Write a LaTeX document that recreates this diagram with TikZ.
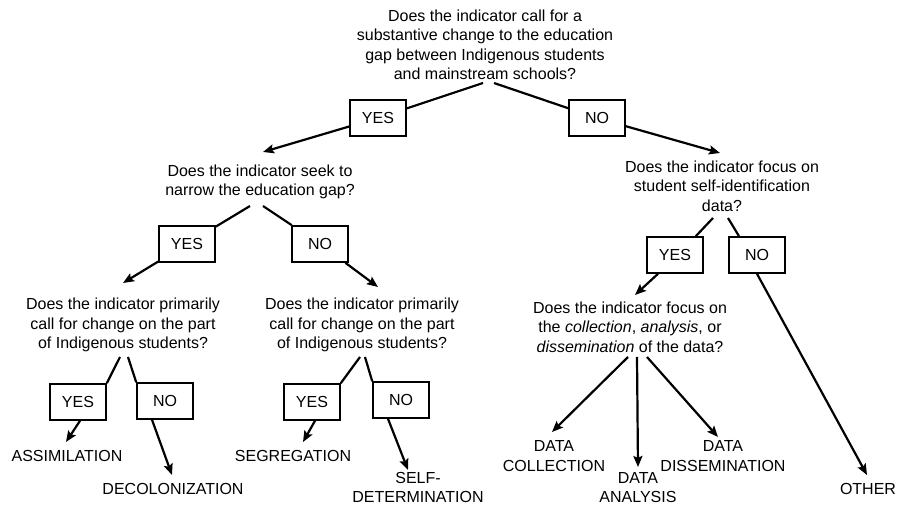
\documentclass[tikz,border=0pt]{standalone}
\usepackage{fontspec}
\setmainfont{Liberation Sans}
\usetikzlibrary{arrows.meta}
\begin{document}
\begin{tikzpicture}[x=1pt,y=-1pt,
  txt/.style={align=center,inner sep=0pt,font=\fontsize{16}{19.5}\selectfont},
  ansbox/.style={draw,line width=1.6pt,minimum width=56pt,minimum height=36pt,inner sep=0pt,font=\fontsize{16}{19.5}\selectfont},
  conn/.style={line width=2.2pt},
  arr/.style={line width=2.2pt,-{Stealth[length=11pt,width=9pt,inset=2pt]}}]
\useasboundingbox (0,0) rectangle (898,505);

% questions
\node[txt] (q0) at (485,45) {Does the indicator call for a\\substantive change to the education\\gap between Indigenous students\\and mainstream schools?};
\node[txt] (q1) at (260,182) {Does the indicator seek to\\narrow the education gap?};
\node[txt] (q2) at (722,186) {Does the indicator focus on\\student self-identification\\data?};
\node[txt] (q3) at (123,325) {Does the indicator primarily\\call for change on the part\\of Indigenous students?};
\node[txt] (q4) at (362,325) {Does the indicator primarily\\call for change on the part\\of Indigenous students?};
\node[txt] (q5) at (630,327) {Does the indicator focus on\\the \textit{collection}, \textit{analysis}, or\\\textit{dissemination} of the data?};

% answer boxes
\node[ansbox] (yes0) at (378,118) {YES};
\node[ansbox] (no0) at (597,118) {NO};
\node[ansbox] (yes1) at (187,244) {YES};
\node[ansbox] (no1) at (320,244) {NO};
\node[ansbox] (yes2) at (675,255) {YES};
\node[ansbox] (no2) at (757,255) {NO};
\node[ansbox] (yes3) at (78,402) {YES};
\node[ansbox] (no3) at (165,401) {NO};
\node[ansbox] (yes4) at (312,402) {YES};
\node[ansbox] (no4) at (401,400) {NO};

% outcomes
\node[txt] (assim) at (67,456) {ASSIMILATION};
\node[txt] (decol) at (173,489) {DECOLONIZATION};
\node[txt] (segr) at (293,456) {SEGREGATION};
\node[txt] (selfd) at (418,487.5) {SELF-\\DETERMINATION};
\node[txt] (dcol) at (554,456) {DATA\\COLLECTION};
\node[txt] (dana) at (638,487.5) {DATA\\ANALYSIS};
\node[txt] (ddis) at (723,456) {DATA\\DISSEMINATION};
\node[txt] (other) at (868,489) {OTHER};

% start points below questions
\coordinate (s0a) at (483,83);
\coordinate (s0b) at (494,83);
\coordinate (s1a) at (250,206);
\coordinate (s1b) at (263,206);
\coordinate (s2a) at (713,218);
\coordinate (s2b) at (728,218);
\coordinate (s3a) at (120,357);
\coordinate (s3b) at (128,357);
\coordinate (s4a) at (360,357);
\coordinate (s4b) at (365,357);
\coordinate (s5a) at (628,357);
\coordinate (s5b) at (637,357);
\coordinate (s5c) at (647,357);

% arrow tips
\coordinate (t1) at (263,152);
\coordinate (t2) at (720,153);
\coordinate (t3) at (123,283);
\coordinate (t4) at (378,287);
\coordinate (t5) at (635,295);
\coordinate (tassim) at (66,442);
\coordinate (tdecol) at (172,475);
\coordinate (tsegr) at (303,442);
\coordinate (tself) at (408,470);
\coordinate (tdcol) at (552,432);
\coordinate (tdana) at (638,467);
\coordinate (tddis) at (718,437);
\coordinate (tother) at (867,475);

% connectors
\draw[conn] (s0a) -- (yes0);
\draw[conn] (s0b) -- (no0);
\draw[arr] (yes0) -- (t1);
\draw[arr] (no0) -- (t2);

\draw[conn] (s1a) -- (yes1);
\draw[conn] (s1b) -- (no1);
\draw[arr] (yes1) -- (t3);
\draw[arr] (no1) -- (t4);

\draw[conn] (s2a) -- ([xshift=-8pt]yes2.north east);
\draw[conn] (s2b) -- ([xshift=-18pt]no2.north);
\draw[arr] ([xshift=-17pt]yes2.south) -- (t5);
\draw[arr] (no2.south) -- (tother);

\draw[conn] (s3a) -- (yes3.north east);
\draw[conn] (s3b) -- (no3.north west);
\draw[arr] ([xshift=2pt]yes3.south) -- (tassim);
\draw[arr] ([xshift=-13pt]no3.south) -- (tdecol);

\draw[conn] (s4a) -- (yes4.north east);
\draw[conn] (s4b) -- (no4.north west);
\draw[arr] ([xshift=3pt]yes4.south) -- (tsegr);
\draw[arr] ([xshift=-13pt]no4.south) -- (tself);

\draw[arr] (s5a) -- (tdcol);
\draw[arr] (s5b) -- (tdana);
\draw[arr] (s5c) -- (tddis);
\end{tikzpicture}
\end{document}
